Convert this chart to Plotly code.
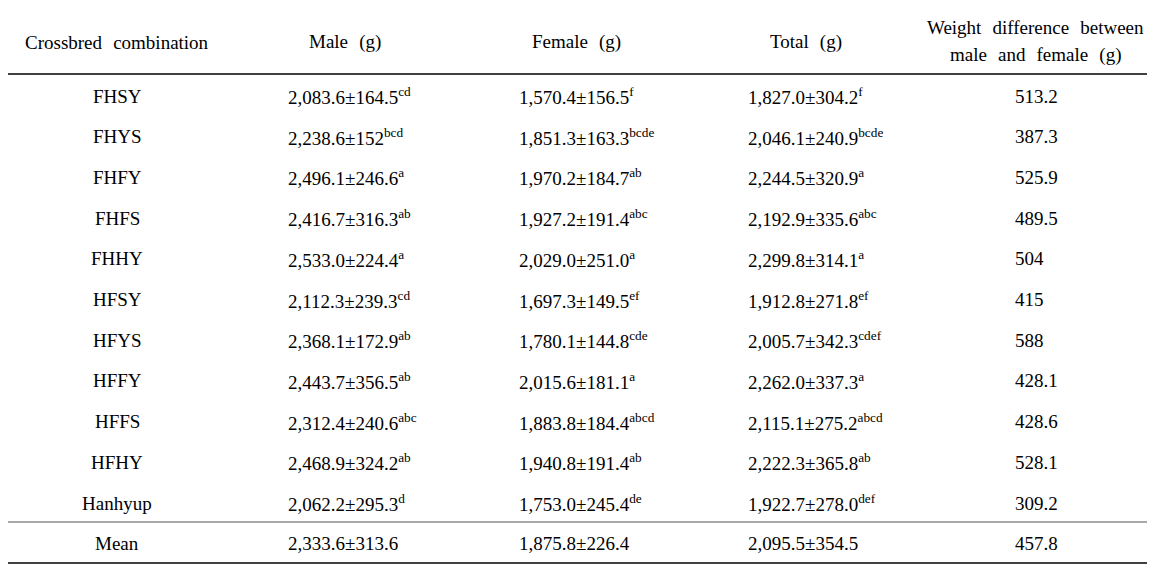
import plotly.graph_objects as go

combos = ["FHSY", "FHYS", "FHFY", "FHFS", "FHHY", "HFSY", "HFYS", "HFFY", "HFFS", "HFHY", "Hanhyup"]
male = ["2,083.6±164.5", "2,238.6±152", "2,496.1±246.6", "2,416.7±316.3", "2,533.0±224.4",
        "2,112.3±239.3", "2,368.1±172.9", "2,443.7±356.5", "2,312.4±240.6", "2,468.9±324.2", "2,062.2±295.3"]
male_sup = ["cd", "bcd", "a", "ab", "a", "cd", "ab", "ab", "abc", "ab", "d"]
female = ["1,570.4±156.5", "1,851.3±163.3", "1,970.2±184.7", "1,927.2±191.4", "2,029.0±251.0",
          "1,697.3±149.5", "1,780.1±144.8", "2,015.6±181.1", "1,883.8±184.4", "1,940.8±191.4", "1,753.0±245.4"]
female_sup = ["f", "bcde", "ab", "abc", "a", "ef", "cde", "a", "abcd", "ab", "de"]
total = ["1,827.0±304.2", "2,046.1±240.9", "2,244.5±320.9", "2,192.9±335.6", "2,299.8±314.1",
         "1,912.8±271.8", "2,005.7±342.3", "2,262.0±337.3", "2,115.1±275.2", "2,222.3±365.8", "1,922.7±278.0"]
total_sup = ["f", "bcde", "a", "abc", "a", "ef", "cdef", "a", "abcd", "ab", "def"]
diff = ["513.2", "387.3", "525.9", "489.5", "504", "415", "588", "428.1", "428.6", "528.1", "309.2"]
mean_row = ["Mean", "2,333.6±313.6", "1,875.8±226.4", "2,095.5±354.5", "457.8"]
headers = ["Crossbred combination", "Male (g)", "Female (g)", "Total (g)"]
header_wd = ["Weight difference between", "male and female (g)"]

# page offset: browser body margin of 8px
OFF = 8
W, H = 1155, 571
FONT = "Liberation Serif"
FS = 19
GAP = "&#8196;&nbsp;"

col_center = [117, 345, 576, 806, 1035]
col_left = [None, 286, 517, 746, 1013]
row_y0, row_dy = 96, 40.7

fig = go.Figure()
fig.add_trace(go.Scatter(x=[OFF, W], y=[OFF, H], mode="markers", marker=dict(opacity=0),
                         hoverinfo="skip", showlegend=False))

ann = []
def add(x, y, text, anchor="center"):
    ann.append(dict(x=x, y=y, xref="x", yref="y", text=text, showarrow=False,
                    xanchor=anchor, yanchor="middle",
                    font=dict(family=FONT, size=FS, color="#000")))

for i, h in enumerate(headers):
    add(col_center[i], 42, h.replace(" ", GAP))
add(col_center[4], 27, header_wd[0].replace(" ", GAP))
add(col_center[4], 55, header_wd[1].replace(" ", GAP))

for r in range(len(combos)):
    y = row_y0 + r * row_dy
    add(col_center[0], y, combos[r])
    add(col_left[1], y, f"{male[r]}<sup>{male_sup[r]}</sup>", "left")
    add(col_left[2], y, f"{female[r]}<sup>{female_sup[r]}</sup>", "left")
    add(col_left[3], y, f"{total[r]}<sup>{total_sup[r]}</sup>", "left")
    add(col_left[4], y, diff[r], "left")

ym = row_y0 + len(combos) * row_dy
add(col_center[0], ym, mean_row[0])
for i in range(1, 5):
    add(col_left[i], ym, mean_row[i], "left")

shapes = []
def hline(y, w, c):
    shapes.append(dict(type="line", xref="x", yref="y", x0=2, x1=1150, y0=y, y1=y,
                       line=dict(color=c, width=w)))
hline(4.5, 2, "#333")
hline(7.5, 1.2, "#222")
hline(74, 1.6, "#000")
hline(522, 1.2, "#555")
hline(563, 1.6, "#000")

fig.update_layout(width=W - OFF, height=H - OFF, margin=dict(l=0, r=0, t=0, b=0),
                  paper_bgcolor="white", plot_bgcolor="white",
                  annotations=ann, shapes=shapes,
                  xaxis=dict(range=[OFF, W], visible=False, fixedrange=True),
                  yaxis=dict(range=[H, OFF], visible=False, fixedrange=True))
fig.write_html("out.html")
